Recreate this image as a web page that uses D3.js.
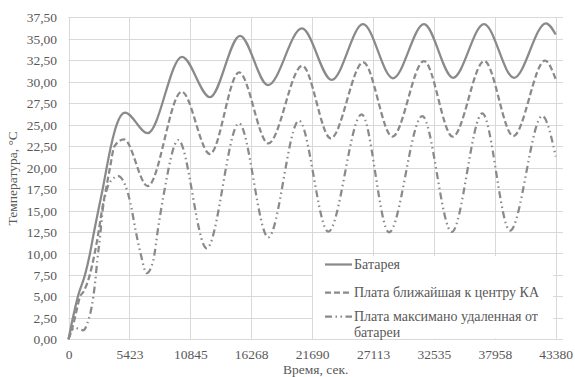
<!DOCTYPE html>
<html>
<head>
<meta charset="utf-8">
<script src="https://cdn.jsdelivr.net/npm/d3@7"></script>
<style>
  html, body { margin: 0; padding: 0; background: #fff; }
  svg { display: block; }
  svg text { font-family: "Liberation Serif", "Times New Roman", serif; fill: #595959; }
</style>
</head>
<body>
<svg id="chart" width="575" height="377"></svg>
<script>
// Time axis labels (seconds) and temperature ticks
const xTicks = [0, 5423, 10845, 16268, 21690, 27113, 32535, 37958, 43380];
const yTicks = [0, 2.5, 5, 7.5, 10, 12.5, 15, 17.5, 20, 22.5, 25, 27.5, 30, 32.5, 35, 37.5];

// Battery
const batteryTime = [0, 285, 579, 873, 1469, 1914, 2270, 2653, 3045, 3401, 3784, 4292, 5031,
  7052, 10106, 12599, 15270, 17763, 20791, 23435, 26222, 28893, 31654, 34236, 36996, 39667, 42516, 43380];
const batteryTemp = [0, 1.86, 3.6, 5.16, 7.5, 10.0, 12.5, 15.0, 17.5, 20.0, 22.5, 25.0, 26.4,
  24.0, 32.9, 28.2, 35.35, 29.6, 36.2, 30.2, 36.7, 30.4, 36.7, 30.46, 36.7, 30.46, 36.8, 35.5];

// Board nearest to the spacecraft centre
const nearTime = [0, 401, 712, 1024, 1318, 1852, 2297, 2653, 2956, 3339, 3695, 4096, 4942,
  7052, 10079, 12599, 15181, 17790, 20818, 23347, 26249, 28832, 31654, 34209, 37023, 39605, 42428, 43380];
const nearTemp = [0, 1.6, 3.3, 4.96, 5.5, 7.3, 9.8, 12.3, 14.86, 17.47, 20.0, 22.5, 23.29,
  17.85, 28.84, 21.58, 31.09, 22.82, 31.86, 23.4, 32.26, 23.6, 32.41, 23.6, 32.41, 23.67, 32.45, 30.3];

// Board farthest from the battery
const farTime = [0, 312, 579, 935, 1318, 1763, 2066, 2360, 2564, 2805, 3045, 3401, 3847, 4434,
  5031, 5527, 5972, 6417, 6963, 7550, 7996, 8441, 9777,
  12305, 15181, 17790, 20524, 23133, 26106, 28537, 31502, 34120, 36845, 39311, 42187, 43380];
const farTemp = [0, 1.1, 1.35, 1.2, 1.05, 2.2, 3.8, 6.5, 9.2, 11.9, 15.1, 17.4, 18.55, 19.0,
  18.0, 15.8, 12.7, 10.0, 7.7, 9.2, 13.1, 16.6, 23.2,
  10.6, 25.15, 11.88, 25.46, 12.53, 26.2, 12.46, 26.0, 12.5, 26.3, 12.65, 26.0, 21.3];

const seriesNames = ["Батарея", "Плата ближайшая к центру КА", ["Плата максимано удаленная от", "батареи"]];

const FONT = "'Liberation Serif', 'Times New Roman', serif";
const svg = d3.select("#chart");
const plotLeft = 68.5, plotRight = 555.7, gridRight = 563, plotTop = 17.3, plotBottom = 339.3;

const x = d3.scaleLinear().domain([0, 43380]).range([plotLeft, plotRight]);
const y = d3.scaleLinear().domain([0, 37.5]).range([plotBottom, plotTop]);

const fmt = v => d3.format(".2f")(v).replace(".", ",");

// Grid
const grid = svg.append("g").attr("stroke", "#d9d9d9").attr("stroke-width", 1);
grid.selectAll("line.h").data(yTicks).join("line")
  .attr("x1", plotLeft).attr("x2", gridRight)
  .attr("y1", d => Math.round(y(d)) + 0.5).attr("y2", d => Math.round(y(d)) + 0.5);
grid.selectAll("line.v").data(xTicks).join("line")
  .attr("y1", plotTop).attr("y2", plotBottom)
  .attr("x1", d => Math.round(x(d)) + 0.5).attr("x2", d => Math.round(x(d)) + 0.5);

// Axes (labels only; lines come from the grid)
const xAxis = d3.axisBottom(x).tickValues(xTicks).tickSize(0).tickPadding(0).tickFormat(d3.format("d"));
const gx = svg.append("g").attr("transform", `translate(0,${plotBottom})`).call(xAxis)
  .attr("font-family", FONT).attr("font-size", 13.5);
gx.select(".domain").remove();
gx.selectAll("text").attr("dy", null).attr("y", 19.5).attr("fill", "#595959");

const yAxis = d3.axisLeft(y).tickValues(yTicks).tickSize(0).tickPadding(0).tickFormat(fmt);
const gy = svg.append("g").attr("transform", `translate(${plotLeft},0)`).call(yAxis)
  .attr("font-family", FONT).attr("font-size", 13.5);
gy.select(".domain").remove();
gy.selectAll("text").attr("x", -11.5).attr("dy", "0.34em").attr("fill", "#595959");

// Axis titles
svg.append("text").attr("x", (plotLeft + gridRight) / 2).attr("y", 374)
  .attr("text-anchor", "middle").attr("font-size", 13.5).text("Время, сек.");
svg.append("text").attr("transform", `translate(17,${(plotTop + plotBottom) / 2}) rotate(-90)`)
  .attr("text-anchor", "middle").attr("font-size", 13.5).text("Температура, °C");

// Series
const series = [
  { t: batteryTime, v: batteryTemp, dash: null },
  { t: nearTime, v: nearTemp, dash: "6,3" },
  { t: farTime, v: farTemp, dash: "7,3.5,1.5,3.5,1.5,3.5" }
];
const line = d3.line().x(d => x(d[0])).y(d => y(d[1])).curve(d3.curveMonotoneX);
const lineColor = "#8a8a8a";
svg.append("g").selectAll("path").data(series).join("path")
  .attr("d", s => line(s.t.map((t, i) => [t, s.v[i]])))
  .attr("fill", "none").attr("stroke", lineColor).attr("stroke-width", 2.25)
  .attr("stroke-linejoin", "round")
  .attr("stroke-dasharray", s => s.dash);

// Legend
const lg = svg.append("g");
lg.append("rect").attr("x", 313).attr("y", 256).attr("width", 240).attr("height", 82.5).attr("fill", "#fff");
const rows = [264.5, 292.5, 316.5];
series.forEach((s, i) => {
  lg.append("line").attr("x1", 325).attr("x2", 352).attr("y1", rows[i]).attr("y2", rows[i])
    .attr("stroke", lineColor).attr("stroke-width", 2.25).attr("stroke-dasharray", s.dash);
  const name = seriesNames[i];
  const lines = Array.isArray(name) ? name : [name];
  lines.forEach((txt, j) => {
    lg.append("text").attr("x", 354).attr("y", rows[i] + 4.5 + j * 15.5)
      .attr("font-size", 14).text(txt);
  });
});
</script>
</body>
</html>
